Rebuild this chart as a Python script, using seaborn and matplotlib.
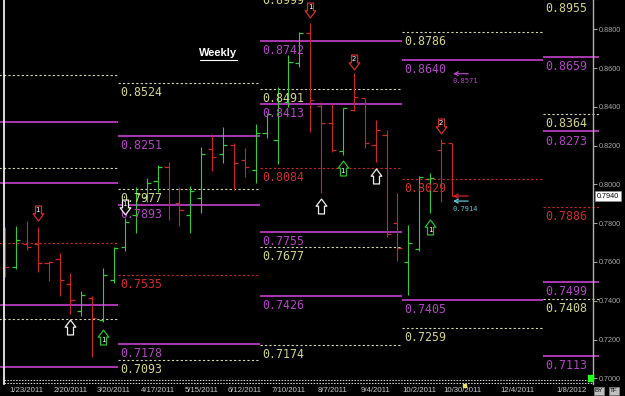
import numpy as np
import pandas as pd
import matplotlib
matplotlib.use("Agg")
import matplotlib.pyplot as plt
import seaborn as sns
from matplotlib.path import Path
from matplotlib.lines import Line2D
from matplotlib.patches import Rectangle

# ---------------- data ----------------
weeks = list(range(42))
opens = [0.7688, 0.7574, 0.7693, 0.7693, 0.7595, 0.7615, 0.7486, 0.7347, 0.7414, 0.7301,
         0.7507, 0.7677, 0.7842, 0.7935, 0.8018, 0.8090, 0.7904, 0.7842, 0.7930, 0.8183,
         0.8157, 0.8203, 0.8126, 0.8074, 0.8265, 0.8229, 0.8425, 0.8626, 0.8781, 0.8404,
         0.8317, 0.8172, 0.8384, 0.8446, 0.8203, 0.8255, 0.7801, 0.7600, 0.7667, 0.8028,
         0.8177, 0.8214]
highs = [0.7780, 0.7786, 0.7811, 0.7780, 0.7605, 0.7646, 0.7543, 0.7450, 0.7424, 0.7569,
         0.7677, 0.7827, 0.7987, 0.8033, 0.8100, 0.8116, 0.7987, 0.7992, 0.8193, 0.8260,
         0.8296, 0.8214, 0.8188, 0.8312, 0.8368, 0.8502, 0.8667, 0.8786, 0.8832, 0.8425,
         0.8420, 0.8394, 0.8575, 0.8446, 0.8332, 0.8281, 0.7956, 0.7791, 0.8043, 0.8059,
         0.8234, 0.8214]
lows = [0.7522, 0.7564, 0.7662, 0.7548, 0.7502, 0.7424, 0.7332, 0.7321, 0.7110, 0.7290,
        0.7492, 0.7657, 0.7749, 0.7909, 0.7961, 0.7816, 0.7786, 0.7749, 0.7853, 0.8069,
        0.8110, 0.7971, 0.8038, 0.8007, 0.8239, 0.8105, 0.8399, 0.8606, 0.8270, 0.7956,
        0.8167, 0.8152, 0.8379, 0.8188, 0.8116, 0.7729, 0.7605, 0.7430, 0.7657, 0.7853,
        0.7909, 0.7940]
closes = [0.7574, 0.7713, 0.7677, 0.7595, 0.7600, 0.7507, 0.7404, 0.7430, 0.7311, 0.7533,
          0.7672, 0.7806, 0.7951, 0.8007, 0.8090, 0.7899, 0.7868, 0.7966, 0.8157, 0.8141,
          0.8203, 0.8110, 0.8090, 0.8265, 0.8363, 0.8420, 0.8631, 0.8781, 0.8435, 0.8317,
          0.8177, 0.8394, 0.8451, 0.8214, 0.8281, 0.7744, 0.7672, 0.7698, 0.8038, 0.8033,
          0.8214, 0.7940]
trend = ['down', 'up', 'down', 'down', 'down', 'down', 'down', 'up', 'down', 'up',
         'up', 'up', 'up', 'up', 'up', 'down', 'down', 'up', 'up', 'down',
         'up', 'down', 'down', 'up', 'up', 'up', 'up', 'up', 'down', 'down',
         'down', 'up', 'down', 'down', 'down', 'down', 'down', 'up', 'up', 'up',
         'down', 'down']

date_pos = [2, 6, 10, 14, 18, 22, 26, 30, 34, 38, 42, 47, 52]
date_lbl = ['1/23/2011', '2/20/2011', '3/20/2011', '4/17/2011', '5/15/2011', '6/12/2011',
            '7/10/2011', '8/7/2011', '9/4/2011', '10/2/2011', '10/30/2011', '12/4/2011',
            '1/8/2012']

# quarterly pivot segments (in week units)
seg_bounds = [-2.0, 10.4, 23.4, 36.4, 49.4, 54.5]
yellow_levels = [[0.8564, 0.8085, 0.7306],
                 [0.8524, 0.7977, 0.7093],
                 [0.8999, 0.8491, 0.7677, 0.7174],
                 [0.8786, 0.7259],
                 [0.8955, 0.8364, 0.7408]]
magenta_levels = [[0.8322, 0.8007, 0.7378, 0.7058],
                  [0.8251, 0.7893, 0.7178],
                  [0.8742, 0.8413, 0.7755, 0.7426],
                  [0.8640, 0.7405],
                  [0.8659, 0.8273, 0.7499, 0.7113]]
red_levels = [[0.7698], [0.7535], [0.8084], [0.8029], [0.7886]]

# signal arrows
sig_week = [3, 6, 9, 11, 28, 32, 31, 34, 29, 40, 39]
sig_price = [0.7853, 0.7265, 0.7213, 0.7883, 0.8900, 0.8631, 0.8085, 0.8043, 0.7889, 0.8301, 0.7780]
sig_dir = ['down', 'up', 'up', 'down', 'down', 'down', 'up', 'up', 'up', 'down', 'up']
sig_kind = ['sell', 'neutral', 'buy', 'neutral', 'sell', 'sell', 'buy', 'neutral', 'neutral', 'sell', 'buy']
sig_label = ['1', '', '1', '1', '1', '2', '1', '', '', '2', '1']

# target arrows
tgt_price = [0.8571, 0.7940, 0.7914]
tgt_kind = ['magenta', 'red', 'cyan']
tgt_label = ['0.8571', '', '0.7914']
tgt_from, tgt_to = 42.5, 41.1

current_price = 0.7940
y_ticks = [0.70, 0.72, 0.74, 0.76, 0.78, 0.80, 0.82, 0.84, 0.86, 0.88]

# ---------------- style ----------------
GREEN = '#3cc83c'
RED = '#c42a2a'
YEL_LINE = '#d8d8b0'
YEL_TXT = '#d4d490'
MAG = '#a838b0'
MAG_TXT = '#b048c0'
RED_TXT = '#c83030'
CYAN = '#60c8d8'

sns.set_theme(style="dark", rc={"axes.facecolor": "black", "figure.facecolor": "black"})
plt.rcParams['font.family'] = ['DejaVu Sans']

fig = plt.figure(figsize=(6.25, 3.96), dpi=100, facecolor='black')
ax = fig.add_axes([4 / 625, 12 / 396, 589 / 625, 384 / 396], facecolor='black')
ax.grid(False)

# pivot level lines
for i in range(5):
    x0, x1 = seg_bounds[i], seg_bounds[i + 1]
    ax.hlines(yellow_levels[i], x0, x1, colors=YEL_LINE, linestyles=(0, (2, 2)), lw=0.8, clip_on=False)
    ax.hlines(magenta_levels[i], x0, x1, colors=MAG, linestyles='solid', lw=1.4, clip_on=False)
    ax.hlines(red_levels[i], x0, x1, colors=RED, linestyles=(0, (2, 2)), lw=0.8, clip_on=False)
    if i == 0:
        continue
    for vals, col in ((yellow_levels[i], YEL_TXT), (magenta_levels[i], MAG_TXT), (red_levels[i], RED_TXT)):
        for v in vals:
            ax.annotate(f'{v:.4f}', xy=(x0, v), xytext=(1.5, -2.2), textcoords='offset points',
                        ha='left', va='top', fontsize=8.4, family='DejaVu Sans Mono',
                        color=col, annotation_clip=False)

# OHLC bars
bar_cols = [GREEN if t == 'up' else RED for t in trend]
ax.vlines(weeks, lows, highs, colors=bar_cols, lw=0.8)
df = pd.DataFrame({'week': weeks, 'open': opens, 'close': closes, 'trend': trend})
pal = {'up': GREEN, 'down': RED}
sns.scatterplot(data=df, x='week', y='open', hue='trend', palette=pal, marker=0, s=9,
                linewidth=0.9, legend=False, ax=ax)
sns.scatterplot(data=df, x='week', y='close', hue='trend', palette=pal, marker=1, s=9,
                linewidth=0.9, legend=False, ax=ax)

# signal arrows
up_path = Path([(-0.2, -0.5), (-0.2, 0.02), (-0.36, 0.02), (0, 0.5), (0.36, 0.02),
                (0.2, 0.02), (0.2, -0.5), (-0.2, -0.5)],
               [Path.MOVETO] + [Path.LINETO] * 6 + [Path.CLOSEPOLY])
down_path = Path([(x, -y) for x, y in up_path.vertices], up_path.codes)
kind_col = {'sell': '#d03030', 'buy': '#30b838', 'neutral': '#f0f0f0'}
for w, p, d, k, lab in zip(sig_week, sig_price, sig_dir, sig_kind, sig_label):
    ax.scatter([w], [p], marker=up_path if d == 'up' else down_path, s=115,
               facecolors='black', edgecolors=kind_col[k], linewidths=0.9, zorder=5)
    if lab:
        ax.annotate(lab, xy=(w, p), xytext=(0, 2.4 if d == 'down' else -2.4),
                    textcoords='offset points', ha='center', va='center',
                    fontsize=5, color='white', zorder=6)

# target arrows
tcol = {'magenta': MAG_TXT, 'red': '#d02828', 'cyan': CYAN}
for p, k, lab in zip(tgt_price, tgt_kind, tgt_label):
    ax.annotate('', xy=(tgt_to, p), xytext=(tgt_from, p),
                arrowprops=dict(arrowstyle='->', color=tcol[k], lw=0.9, shrinkA=0, shrinkB=0,
                                mutation_scale=7))
    if lab:
        ax.annotate(lab, xy=(tgt_to, p), xytext=(0, -3.2), textcoords='offset points',
                    ha='left', va='top', fontsize=5, family='DejaVu Sans Mono', color=tcol[k])

# axes
ax.set_xlim(-0.092, -0.092 + 589 / 10.9)
ax.set_ylim(0.69706, 0.89511)
ax.yaxis.tick_right()
ax.set_yticks(y_ticks)
ax.set_yticklabels([f'{v:.4f}' for v in y_ticks], family='Liberation Sans')
ax.tick_params(axis='y', colors='#a8a8a8', labelsize=5.2, length=3, width=0.7, pad=1, right=True, left=False)
ax.set_xticks(date_pos)
ax.set_xticklabels(date_lbl, family='Liberation Sans')
ax.tick_params(axis='x', colors='#c8c8c8', labelsize=5.6, length=0, pad=2.2, bottom=True)
ax.set_xlabel('')
ax.set_ylabel('')
for s in ('top', 'bottom'):
    ax.spines[s].set_visible(False)
ax.spines['left'].set_color('white')
ax.spines['left'].set_linewidth(1.2)
ax.spines['right'].set_color('#b0b0b0')
ax.spines['right'].set_linewidth(1.0)

# bottom dotted double line
for f in (0.0104, 0.0026):
    ax.plot([0, 1], [f, f], transform=ax.transAxes, color='#e0e0e0', lw=0.7,
            ls=(0, (1.5, 1.5)), clip_on=False)

# current price box
ax.annotate(f'{current_price:.4f}', xy=(1, current_price), xycoords=('axes fraction', 'data'),
            xytext=(2.5, 0), textcoords='offset points', ha='left', va='center',
            fontsize=5.2, family='Liberation Sans', color='black',
            bbox=dict(boxstyle='square,pad=0.25', fc='white', ec='#909090', lw=0.5),
            annotation_clip=False)

# title
fig.text(218 / 625, 1 - 53 / 396, 'Weekly', ha='center', va='center', family='Liberation Sans',
         weight='bold', size=8, color='white')
fig.add_artist(Line2D([200 / 625, 237 / 625], [1 - 60 / 396] * 2, color='white', lw=0.8))

# small widgets
fig.add_artist(Rectangle((588 / 625, 1 - 381 / 396), 5 / 625, 6 / 396, color='#20ff20'))
fig.add_artist(Rectangle((463 / 625, 1 - 387 / 396), 3 / 625, 3 / 396, color='#e8e060'))
fig.text(599 / 625, 1 - 391 / 396, 'BY', ha='center', va='center', size=4.5, color='black',
         family='Liberation Sans', bbox=dict(boxstyle='square,pad=0.2', fc='#c0c0c0', ec='#808080', lw=0.5))
fig.text(614 / 625, 1 - 391 / 396, 'TF', ha='center', va='center', size=4.5, color='black',
         family='Liberation Sans', bbox=dict(boxstyle='square,pad=0.2', fc='#c0c0c0', ec='#808080', lw=0.5))

fig.savefig('out.png', dpi=100, facecolor='black')
